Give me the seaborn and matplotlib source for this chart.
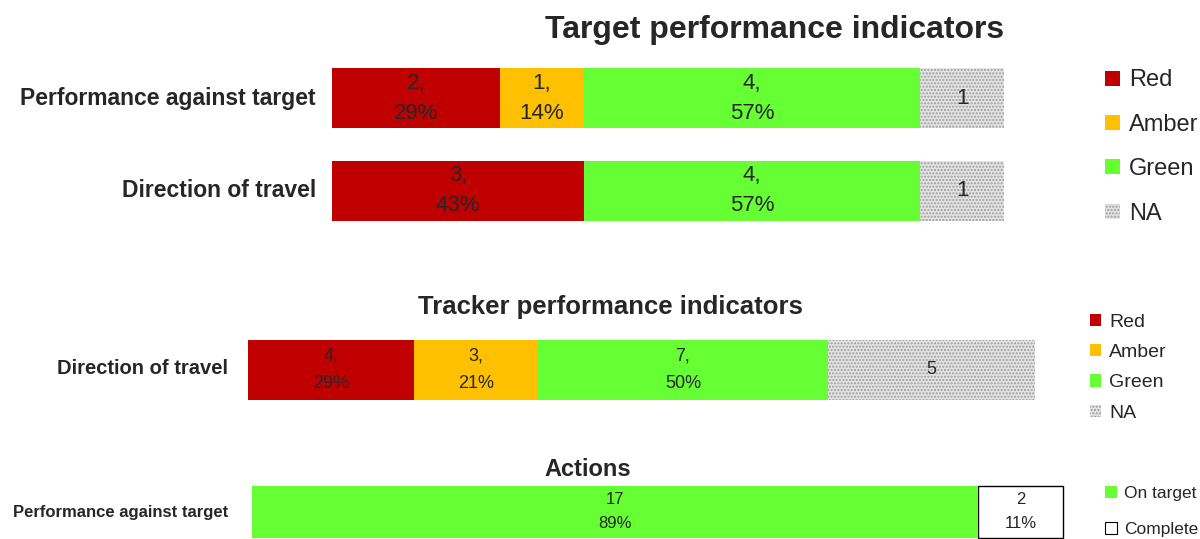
import numpy as np
import pandas as pd
import matplotlib
matplotlib.use("Agg")
import matplotlib.pyplot as plt
import seaborn as sns
from matplotlib.patches import Patch

# data
rag_names = ["Red", "Amber", "Green", "NA"]
target_rows = ["Performance against target", "Direction of travel"]
target_red = [2, 3]
target_amber = [1, 0]
target_green = [4, 4]
target_na = [1, 1]
target_pct = {"Red": ["29%", "43%"], "Amber": ["14%", ""], "Green": ["57%", "57%"]}

tracker_rows = ["Direction of travel"]
tracker_red = [4]
tracker_amber = [3]
tracker_green = [7]
tracker_na = [5]
tracker_pct = {"Red": ["29%"], "Amber": ["21%"], "Green": ["50%"]}

action_rows = ["Performance against target"]
action_names = ["On target", "Complete"]
action_on_target = [17]
action_complete = [2]
action_pct = {"On target": ["89%"], "Complete": ["11%"]}

COLORS = {"Red": "#C00000", "Amber": "#FFC000", "Green": "#66FF33", "NA": "#e4e4e4",
          "On target": "#66FF33", "Complete": "#ffffff"}

sns.set_theme(style="white")
plt.rcParams["font.family"] = ["Liberation Sans Narrow", "Liberation Sans", "DejaVu Sans"]

W, H = 1200, 539
fig = plt.figure(figsize=(W / 100, H / 100), dpi=100)


def px_axes(x0, y0, x1, y1):
    return fig.add_axes([x0 / W, 1 - y1 / H, (x1 - x0) / W, (y1 - y0) / H])


def stacked(ax, rows, series, pct, width, fs, xmax, ls, edge=None):
    df = pd.DataFrame(series, index=rows)
    cum = df.cumsum(axis=1)
    start = cum - df
    names = list(df.columns)
    # draw cumulative totals with seaborn, then trim each bar to its own segment
    for name in reversed(names):
        d = pd.DataFrame({"row": rows, "val": cum[name].values})
        sns.barplot(data=d, x="val", y="row", orient="h", color=COLORS[name],
                    width=width, saturation=1, ax=ax)
        for i, p in enumerate(ax.containers[-1]):
            p.set_x(start[name].iloc[i])
            p.set_width(df[name].iloc[i])
            p.set_facecolor(COLORS[name])
            p.set_clip_on(False)
            if name == "NA":
                p.set_hatch(".....")
                p.set_edgecolor("#9a9a9a")
                p.set_linewidth(0)
            elif edge is not None and name == "Complete":
                p.set_edgecolor(edge)
                p.set_linewidth(1)
            else:
                p.set_linewidth(0)
    for i, r in enumerate(rows):
        for name in names:
            v = df.loc[r, name]
            if v > 0:
                if name == "NA":
                    txt = str(v)
                elif name in ("On target", "Complete"):
                    txt = f"{v}\n{pct[name][i]}"
                else:
                    txt = f"{v},\n{pct[name][i]}"
                ax.text(start.loc[r, name] + v / 2, i, txt, ha="center", va="center",
                        fontsize=fs, color="#262626", linespacing=ls)
    ax.set_xlim(0, xmax)
    ax.set_axis_off()


# panel 1
ax1 = px_axes(332, 52, 1004, 237)
stacked(ax1, target_rows, {"Red": target_red, "Amber": target_amber,
                           "Green": target_green, "NA": target_na},
        target_pct, 0.65, 16, 8, 1.55)
ax1.set_ylim(1.5, -0.5)
fig.text(775 / W, 1 - 30 / H, "Target performance indicators", ha="center", va="center",
         fontsize=23, fontweight="bold")
for i, lab in enumerate(target_rows):
    fig.text(316 / W, 1 - (98 + i * 92.5) / H, lab, ha="right", va="center",
             fontsize=16.5, fontweight="bold")

# panel 2
ax2 = px_axes(248, 332, 1035, 408)
stacked(ax2, tracker_rows, {"Red": tracker_red, "Amber": tracker_amber,
                            "Green": tracker_green, "NA": tracker_na},
        tracker_pct, 0.8, 13, 19, 1.8)
ax2.set_ylim(0.5, -0.5)
fig.text(610 / W, 1 - 307 / H, "Tracker performance indicators", ha="center", va="center",
         fontsize=18.5, fontweight="bold")
fig.text(228 / W, 1 - 368 / H, tracker_rows[0], ha="right", va="center",
         fontsize=14.5, fontweight="bold")

# panel 3
ax3 = px_axes(252, 486, 1063, 538)
stacked(ax3, action_rows, {"On target": action_on_target, "Complete": action_complete},
        action_pct, 1.0, 12, 19, 1.75, edge="black")
ax3.set_ylim(0.5, -0.5)
fig.text(588 / W, 1 - 469 / H, "Actions", ha="center", va="center",
         fontsize=17, fontweight="bold")
fig.text(228 / W, 1 - 512 / H, action_rows[0], ha="right", va="center",
         fontsize=12, fontweight="bold")


def rag_handles():
    hs = []
    for n in rag_names:
        if n == "NA":
            hs.append(Patch(facecolor=COLORS[n], hatch=".....", edgecolor="#9a9a9a", linewidth=0))
        else:
            hs.append(Patch(facecolor=COLORS[n], linewidth=0))
    return hs


fig.legend(rag_handles(), rag_names, loc="upper left", bbox_to_anchor=(1096 / W, 1 - 60 / H),
           frameon=False, fontsize=17, handlelength=0.6, handleheight=0.6,
           handletextpad=0.4, labelspacing=0.95, borderaxespad=0)
fig.legend(rag_handles(), rag_names, loc="upper left", bbox_to_anchor=(1082 / W, 1 - 306 / H),
           frameon=False, fontsize=14, handlelength=0.6, handleheight=0.6,
           handletextpad=0.4, labelspacing=0.68, borderaxespad=0)
fig.legend([Patch(facecolor=COLORS["On target"], linewidth=0),
            Patch(facecolor="white", edgecolor="black", linewidth=0.8)],
           action_names, loc="upper left", bbox_to_anchor=(1098 / W, 1 - 479 / H),
           frameon=False, fontsize=12.5, handlelength=0.7, handleheight=0.7,
           handletextpad=0.4, labelspacing=1.2, borderaxespad=0)

fig.savefig("out.png", dpi=100)
